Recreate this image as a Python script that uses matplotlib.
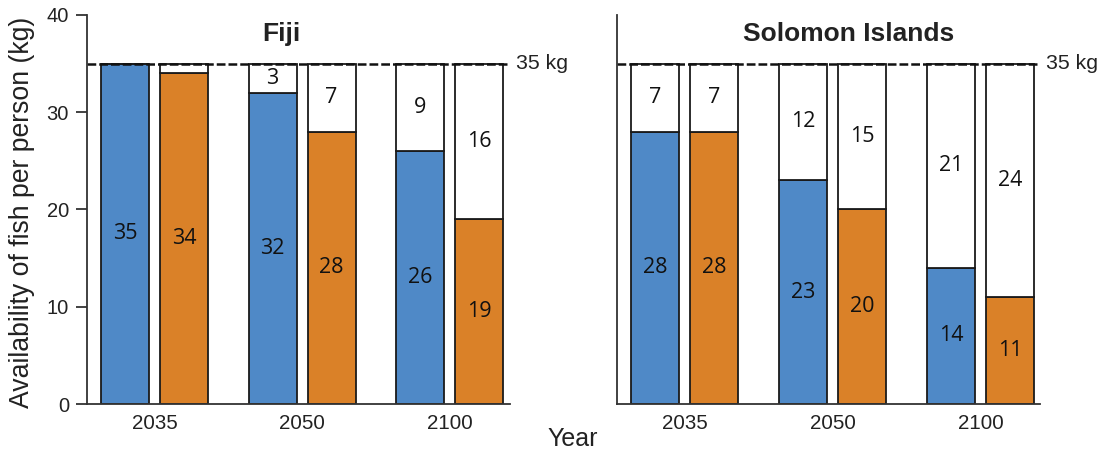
import matplotlib
matplotlib.use("Agg")
import matplotlib.pyplot as plt
import numpy as np

years = ["2035", "2050", "2100"]
target = 35
fiji_blue = [35, 32, 26]
fiji_orange = [34, 28, 19]
sol_blue = [28, 23, 14]
sol_orange = [28, 20, 11]
panels = [("Fiji", fiji_blue, fiji_orange), ("Solomon Islands", sol_blue, sol_orange)]

BLUE = "#4F89C7"
ORANGE = "#DA8128"
EDGE = "#1a1a1a"
TXT = "#222222"

W, H = 1107, 450
fig = plt.figure(figsize=(W / 100, H / 100), dpi=100)
axes = [fig.add_axes([87 / W, 1 - 404 / H, 423 / W, 389 / H]),
        fig.add_axes([617 / W, 1 - 404 / H, 423 / W, 389 / H])]
xlims = [(-0.458, 2.41), (-0.457, 2.40)]
title_x = [0.861, 1.107]

x = np.arange(len(years))
off = 0.2
w = 0.325
label_font = "Open Sans"
for i, (ax, (title, blue, orange)) in enumerate(zip(axes, panels)):
    for xs, vals, col in [(x - off, blue, BLUE), (x + off, orange, ORANGE)]:
        vals = np.array(vals)
        gap = target - vals
        ax.bar(xs, vals, width=w, color=col, edgecolor=EDGE, linewidth=1.3, zorder=2)
        ax.bar(xs, gap, bottom=vals, width=w, color="white", edgecolor=EDGE, linewidth=1.3, zorder=2)
        for xi, v, g in zip(xs, vals, gap):
            ax.text(xi, v / 2, str(v), ha="center", va="center", fontsize=15.5,
                    family=label_font, color="#111111", zorder=4)
            if g >= 2:
                ax.text(xi, v + g / 2, str(g), ha="center", va="center", fontsize=15.5,
                        family=label_font, color="#111111", zorder=4)
    ax.axhline(target, color="#111111", linestyle=(0, (3.5, 1.2)), linewidth=1.8, zorder=3)
    ax.text(1.014, target, "35 kg", transform=ax.get_yaxis_transform(), ha="left", va="center",
            fontsize=15.3, family="Liberation Sans", color=TXT)
    ax.set_xlim(*xlims[i])
    ax.set_ylim(0, 40)
    ax.set_xticks(x)
    ax.set_xticklabels(years, fontsize=14.8, family="Liberation Sans", color=TXT)
    ax.tick_params(axis="x", length=0, pad=7)
    for s in ["top", "right"]:
        ax.spines[s].set_visible(False)
    for s in ["left", "bottom"]:
        ax.spines[s].set_color("#333333")
        ax.spines[s].set_linewidth(1.3)
        ax.spines[s].set_zorder(5)
    ax.text(title_x[i], 37.33, title, ha="center", va="baseline", fontsize=19,
            fontweight="bold", family="Liberation Sans", color=TXT)
    if i == 0:
        ax.set_yticks([0, 10, 20, 30, 40])
        ax.set_yticklabels(["0", "10", "20", "30", "40"], fontsize=14.5,
                           family="Liberation Sans", color=TXT)
        ax.tick_params(axis="y", length=8, width=1.3, color="#333333", pad=5)
    else:
        ax.set_yticks([])

fig.text(22 / W, 1 - 212.5 / H, "Availability of fish per person (kg)", rotation=90,
         fontsize=19.2, family="Liberation Sans", color=TXT, ha="center", va="center")
fig.text(573 / W, 1 - 446 / H, "Year", fontsize=18, family="Liberation Sans", color=TXT,
         ha="center", va="baseline")
fig.savefig("out.png", dpi=100)
